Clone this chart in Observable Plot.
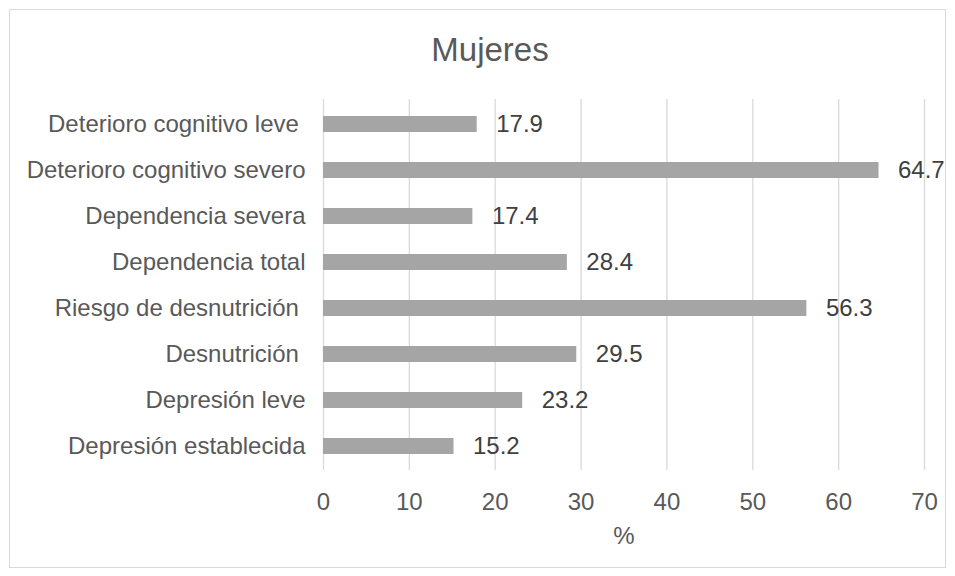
<!DOCTYPE html>
<html>
<head>
<meta charset="utf-8">
<script src="https://cdn.jsdelivr.net/npm/d3@7"></script>
<script src="https://cdn.jsdelivr.net/npm/@observablehq/plot@0.6"></script>
<style>
  body { margin: 0; background: #fff; font-family: "Liberation Sans", Arial, sans-serif; }
  #wrap { position: relative; width: 955px; height: 576px; overflow: hidden; }
  #frame { position: absolute; left: 9px; top: 9px; width: 935px; height: 557px; border: 1px solid #d9d9d9; }
  #title { position: absolute; left: 0; top: 30px; width: 980px; text-align: center; font-size: 33px; line-height: 40px; color: #595959; }
  #chart { position: absolute; left: 0; top: 80px; }
  #chart svg text { white-space: pre; }
</style>
</head>
<body>
<div id="wrap">
  <div id="frame"></div>
  <div id="title">Mujeres</div>
  <div id="chart"></div>
</div>
<script>
// Indicators, top to bottom, with their percentages
const categories = [
  "Deterioro cognitivo leve ",
  "Deterioro cognitivo severo",
  "Dependencia severa",
  "Dependencia total",
  "Riesgo de desnutrición ",
  "Desnutrición ",
  "Depresión leve",
  "Depresión establecida"
];
const values = [17.9, 64.7, 17.4, 28.4, 56.3, 29.5, 23.2, 15.2];
const xTicks = [0, 10, 20, 30, 40, 50, 60, 70];

const data = categories.map((c, i) => ({category: c, value: values[i]}));

const chart = Plot.plot({
  width: 955,
  height: 496,
  marginTop: 19,
  marginBottom: 106,
  marginLeft: 323,
  marginRight: 31,
  style: {fontFamily: "Liberation Sans, Arial, sans-serif", fontSize: "24px", background: "transparent", overflow: "visible"},
  x: {domain: [0, 70]},
  y: {domain: categories, paddingInner: 0.655, paddingOuter: 0.3275, align: 0.5},
  marks: [
    Plot.gridX(xTicks, {stroke: "#d9d9d9", strokeOpacity: 1, strokeWidth: 1.3}),
    Plot.barX(data, {x: "value", y: "category", fill: "#a5a5a5"}),
    Plot.text(data, {x: "value", y: "category", text: d => d.value.toFixed(1), textAnchor: "start", dx: 19, fill: "#404040", fontSize: 24}),
    Plot.axisX({ticks: xTicks, tickSize: 0, tickPadding: 22, color: "#595959", fontSize: 24, label: "%", labelAnchor: "center", labelArrow: "none", labelOffset: 73}),
    Plot.axisY({tickSize: 0, tickPadding: 18, color: "#595959", fontSize: 24, label: null})
  ]
});
document.getElementById("chart").append(chart);
</script>
</body>
</html>
